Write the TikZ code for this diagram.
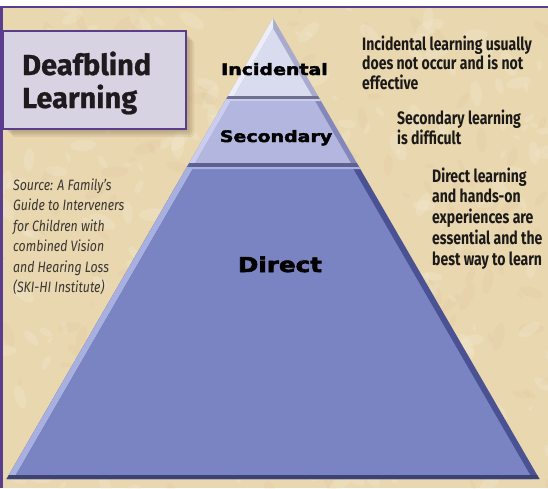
\documentclass[tikz,border=0pt]{standalone}
\usepackage{fontspec}
\setmainfont{Fira Sans}
\newfontfamily\labelfont[FakeBold=2.4]{DejaVu Sans Bold}
\newfontfamily\titlefont[FakeBold=0.8]{Fira Sans Bold}
\definecolor{bgc}{HTML}{E9D7B0}
\definecolor{bglight}{HTML}{F5EBD3}
\definecolor{bgdark}{HTML}{C9AC7E}
\definecolor{framec}{HTML}{5B3D8E}
\definecolor{boxc}{HTML}{D8D3E3}
\definecolor{shadowc}{HTML}{6B5330}
\definecolor{titlec}{HTML}{1E1A1E}
\definecolor{textc}{HTML}{1C1A18}
\definecolor{srcc}{HTML}{3A3632}
\definecolor{tAmain}{HTML}{D9DBEF}
\definecolor{tAlight}{HTML}{ECEDF7}
\definecolor{tAdark}{HTML}{A8ABCB}
\definecolor{tAbot}{HTML}{6E7090}
\definecolor{tBmain}{HTML}{B3B7DF}
\definecolor{tBlight}{HTML}{CACEEC}
\definecolor{tBdark}{HTML}{8387BB}
\definecolor{tBbot}{HTML}{5D6192}
\definecolor{tCmain}{HTML}{7B84C2}
\definecolor{tClight}{HTML}{A8B0E0}
\definecolor{tCdark}{HTML}{4B5294}
\definecolor{tCbot}{HTML}{3C4274}
\newcommand\pyrtier[7]{%
  \fill[#5] ({xl(#1)},#1) -- ({xr(#1)},#1) -- ({xr(#2)},#2) -- ({xl(#2)},#2) -- cycle;
  \fill[#4] ({xl(#1)},#1) -- ({xl(#1)+#7},#1) -- ({xl(#2)+#7},#2) -- ({xl(#2)},#2) -- cycle;
  \fill[#3] ({xl(#1)+#7},#1) -- ({xr(#1)-#7},#1) -- ({xr(#2)-#7},#2) -- ({xl(#2)+#7},#2) -- cycle;
  \fill[#4] ({xl(#1)},#1) -- ({xr(#1)},#1) -- ({xr(#1+2)},#1+2) -- ({xl(#1+2)},#1+2) -- cycle;
  \fill[#6] ({xl(#2-4)},#2-4) -- ({xr(#2-4)},#2-4) -- ({xr(#2)},#2) -- ({xl(#2)},#2) -- cycle;
}
\begin{document}
\begin{tikzpicture}[x=1pt,y=-1pt,
  declare function={xl(\y)=273-0.578*(\y-18); xr(\y)=273+0.578*(\y-18);},
  rtext/.style={anchor=base west, inner sep=0, text=textc, font={\fontsize{18}{20}\selectfont\bfseries}, xscale=0.78},
  stext/.style={anchor=base west, inner sep=0, text=srcc, font={\fontsize{15}{18}\selectfont\itshape}, xscale=0.82},
  plabel/.style={anchor=base, inner sep=0, text=black, font={\labelfont\fontsize{15.8}{18}\selectfont}, xscale=1.2},
  ttext/.style={anchor=base west, inner sep=0, text=titlec, font={\titlefont\fontsize{29}{32}\selectfont}},
]
\useasboundingbox (0,0) rectangle (548,488);
\fill[white] (0,0) rectangle (548,488);
\fill[bgc] (2,7) rectangle (548,488);
% parchment texture
\begin{scope}
\clip (2,7) rectangle (548,488);
\pgfmathsetseed{42}
\foreach \i in {1,...,420}{
  \pgfmathsetmacro\px{rnd*570-10}
  \pgfmathsetmacro\py{rnd*500}
  \pgfmathsetmacro\rr{3+rnd*12}
  \pgfmathsetmacro\rot{rnd*180}
  \pgfmathsetmacro\cc{rnd}
  \ifdim\cc pt<0.6pt
    \fill[bglight, opacity=0.3, rotate around={\rot:(\px,\py)}] (\px,\py) ellipse [x radius=\rr pt, y radius=0.45*\rr pt];
  \else
    \fill[bgdark, opacity=0.09, rotate around={\rot:(\px,\py)}] (\px,\py) ellipse [x radius=\rr pt, y radius=0.4*\rr pt];
  \fi
}
\end{scope}
% frame
\draw[framec, line width=2] (0,7) -- (548,7);
\draw[framec, line width=2.2] (1.5,7) -- (1.5,488);
% pyramid: top tier
\fill[tAdark] (273,18) -- ({xr(99)},99) -- ({xl(99)},99) -- cycle;
\fill[tAlight] (273,18) -- ({xl(99)},99) -- ({xl(99)+6},99) -- (273,28.4) -- cycle;
\fill[tAmain] (273,28.4) -- ({xr(99)-6},99) -- ({xl(99)+6},99) -- cycle;
\fill[tAbot] ({xl(96)},96) -- ({xr(96)},96) -- ({xr(99)},99) -- ({xl(99)},99) -- cycle;
% middle and bottom tiers
\pyrtier{99}{167}{tBmain}{tBlight}{tBdark}{tBbot}{6}
\pyrtier{167}{479}{tCmain}{tClight}{tCdark}{tCbot}{7}
% pyramid labels
\node[plabel] (incid) at (274.5,75) {Incidental};
\node[plabel] (second) at (276,142) {Secondary};
\node[plabel, font={\labelfont\fontsize{20.5}{24}\selectfont}] (direct) at (280,272) {Direct};
% title box with shadow
\foreach \k in {2,4,6,8,10}{
  \fill[shadowc, opacity=0.10, rounded corners=3] (2+\k,30+\k) rectangle (185+\k*0.9,128+\k*0.9);
}
\node[draw=framec, fill=boxc, line width=2, minimum width=183pt, minimum height=98pt, anchor=north west, inner sep=0] (tbox) at (2,30) {};
\node[ttext] (title1) at (22,75) {Deafblind};
\node[ttext] (title2) at (22,108) {Learning};
% right texts
\foreach \txt [count=\i] in {Incidental learning usually, does not occur and is not, effective}
  \node[rtext] (inc\i) at (362,{50+19.5*(\i-1)}) {\txt};
\foreach \txt [count=\i] in {Secondary learning, is difficult}
  \node[rtext] (sec\i) at (397,{124+20*(\i-1)}) {\txt};
\foreach \txt [count=\i] in {Direct learning, and hands-on, experiences are, essential and the, best way to learn}
  \node[rtext] (dir\i) at (432,{182+20.8*(\i-1)}) {\txt};
% source text
\foreach \txt [count=\i] in {Source: A Family’s, Guide to Interveners, for Children with, combined Vision, and Hearing Loss, {(SKI-HI Institute)}}
  \node[stext] (src\i) at (13,{190+20.5*(\i-1)}) {\txt};
\end{tikzpicture}
\end{document}
